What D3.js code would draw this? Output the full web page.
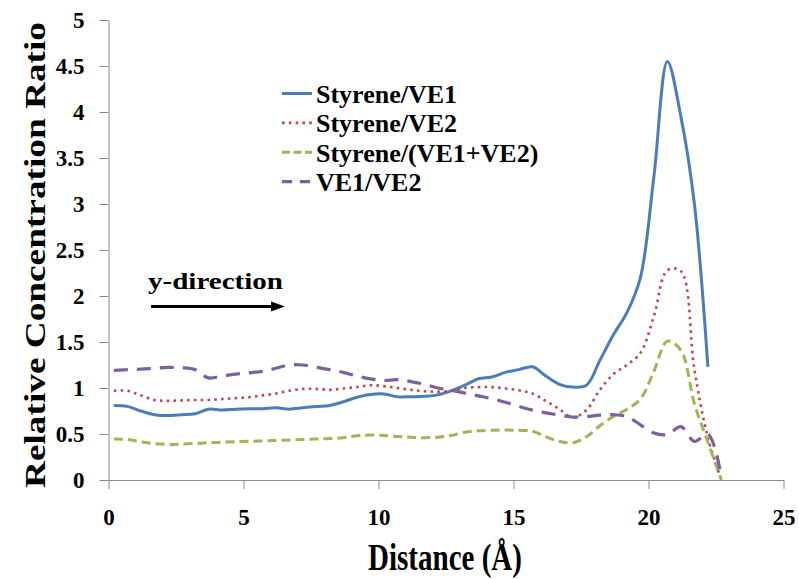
<!DOCTYPE html>
<html>
<head>
<meta charset="utf-8">
<script src="https://cdn.jsdelivr.net/npm/d3@7"></script>
<style>
  html, body { margin: 0; padding: 0; background: #fff; }
</style>
</head>
<body>
<svg id="chart" width="799" height="579"></svg>
<script>
// Distance along the y-direction (Å)
const distance = [0.2, 0.7, 1.2, 1.7, 2.2, 2.7, 3.2, 3.7, 4.2, 4.7, 5.2, 5.7, 6.2, 6.7, 7.2, 7.7,
  8.2, 8.7, 9.2, 9.7, 10.2, 10.7, 11.2, 11.7, 12.2, 12.7, 13.2, 13.7, 14.2, 14.7, 15.2, 15.7,
  16.2, 16.7, 17.2, 17.7, 18.2, 18.7, 19.2, 19.7, 20.2, 20.7, 21.2, 21.7, 22.2, 22.7];

// Relative concentration ratios
const styreneVE1 = [0.81, 0.80, 0.75, 0.71, 0.70, 0.71, 0.72, 0.77, 0.76, 0.77, 0.775, 0.775, 0.785, 0.77, 0.785, 0.80,
  0.81, 0.85, 0.90, 0.93, 0.935, 0.905, 0.905, 0.91, 0.925, 0.97, 1.03, 1.10, 1.12, 1.17, 1.20, 1.23,
  1.13, 1.04, 1.01, 1.03, 1.30, 1.58, 1.82, 2.20, 3.30, 4.55, 3.95, 3.00, 1.23, null];
const styreneVE2 = [0.97, 0.97, 0.92, 0.87, 0.86, 0.865, 0.87, 0.87, 0.88, 0.89, 0.90, 0.92, 0.94, 0.97, 0.99, 0.99,
  0.98, 0.995, 1.01, 1.03, 1.02, 1.00, 0.98, 0.965, 0.96, 0.97, 1.00, 1.01, 1.01, 0.995, 0.975, 0.94,
  0.86, 0.77, 0.68, 0.76, 0.98, 1.15, 1.25, 1.38, 1.78, 2.28, 2.27, 1.20, 0.46, 0.0];
const styreneVE1VE2 = [0.445, 0.44, 0.415, 0.395, 0.387, 0.39, 0.397, 0.405, 0.41, 0.417, 0.42, 0.425, 0.43, 0.435, 0.44, 0.445,
  0.45, 0.46, 0.48, 0.49, 0.485, 0.473, 0.465, 0.46, 0.465, 0.485, 0.52, 0.535, 0.54, 0.543, 0.54, 0.53,
  0.47, 0.42, 0.405, 0.47, 0.59, 0.69, 0.77, 0.88, 1.18, 1.51, 1.41, 0.83, 0.41, 0.0];
const ve1VE2 = [1.19, 1.20, 1.205, 1.215, 1.225, 1.22, 1.20, 1.11, 1.13, 1.15, 1.165, 1.18, 1.215, 1.25, 1.25, 1.225,
  1.20, 1.17, 1.13, 1.10, 1.08, 1.09, 1.07, 1.04, 1.00, 0.975, 0.945, 0.915, 0.885, 0.845, 0.80, 0.76,
  0.73, 0.705, 0.685, 0.69, 0.705, 0.71, 0.69, 0.60, 0.51, 0.495, 0.58, 0.42, 0.50, 0.03];

const seriesNames = ["Styrene/VE1", "Styrene/VE2", "Styrene/(VE1+VE2)", "VE1/VE2"];
const xTicks = [0, 5, 10, 15, 20, 25];
const yTicks = [0, 0.5, 1, 1.5, 2, 2.5, 3, 3.5, 4, 4.5, 5];

const series = [
  { name: seriesNames[0], values: styreneVE1,    color: "#4a7ebb", width: 3,   dash: null,     legendDash: null },
  { name: seriesNames[1], values: styreneVE2,    color: "#be4b48", width: 2.6, dash: "2.6,4.2", legendDash: "2.6,4.2" },
  { name: seriesNames[2], values: styreneVE1VE2, color: "#98b954", width: 3,   dash: "9,5",    legendDash: "8,3.5" },
  { name: seriesNames[3], values: ve1VE2,        color: "#7d60a0", width: 3.2, dash: "14,9",   legendDash: "10,8" }
];

const FONT = "'Liberation Serif', 'Times New Roman', 'DejaVu Serif', serif";
const svg = d3.select("#chart");
const x = d3.scaleLinear().domain([0, 25]).range([108.5, 783.5]);
const y = d3.scaleLinear().domain([0, 5]).range([480, 20]);
const axisColor = "#8a8a8a";

function serifBold(sel, size) {
  return sel.attr("font-family", null)
    .style("font-family", FONT)
    .style("font-weight", "bold")
    .style("font-size", size + "px")
    .attr("fill", "#000");
}

// Y axis
const gy = svg.append("g").attr("transform", `translate(${x(0)},0)`)
  .call(d3.axisLeft(y).tickValues(yTicks).tickFormat(d => String(d)).tickSize(9).tickSizeOuter(0).tickPadding(15));
gy.select(".domain").attr("stroke", axisColor);
gy.selectAll(".tick line").attr("stroke", axisColor);
serifBold(gy.selectAll(".tick text"), 23).attr("dy", "0.33em");

// X axis
const gx = svg.append("g").attr("transform", `translate(0,${y(0)})`)
  .call(d3.axisBottom(x).tickValues(xTicks).tickFormat(d => String(d)).tickSize(9).tickSizeOuter(0));
gx.select(".domain").attr("stroke", axisColor);
gx.selectAll(".tick line").attr("stroke", axisColor);
serifBold(gx.selectAll(".tick text"), 23).attr("y", 45).attr("dy", 0);

// Axis titles
serifBold(svg.append("text"), 37)
  .attr("x", 445).attr("y", 570)
  .attr("text-anchor", "middle")
  .attr("textLength", 154).attr("lengthAdjust", "spacingAndGlyphs")
  .text("Distance (Å)");

serifBold(svg.append("text"), 30)
  .attr("transform", "translate(45,255) rotate(-90)")
  .attr("text-anchor", "middle")
  .attr("textLength", 466).attr("lengthAdjust", "spacingAndGlyphs")
  .text("Relative Concentration Ratio");

// Series lines
const line = d3.line()
  .defined(d => d.v !== null)
  .x(d => x(d.d))
  .y(d => y(d.v))
  .curve(d3.curveCatmullRom.alpha(0.5));

series.forEach(s => {
  const pts = distance.map((d, i) => ({ d: d, v: s.values[i] }));
  svg.append("path")
    .datum(pts)
    .attr("fill", "none")
    .attr("stroke", s.color)
    .attr("stroke-width", s.width)
    .attr("stroke-linejoin", "round")
    .attr("stroke-dasharray", s.dash)
    .attr("d", line);
});

// Legend
const legend = svg.append("g");
series.forEach((s, i) => {
  const ry = 93.5 + i * 29.4;
  legend.append("line")
    .attr("x1", 282).attr("x2", 312).attr("y1", ry).attr("y2", ry)
    .attr("stroke", s.color).attr("stroke-width", s.width)
    .attr("stroke-dasharray", s.legendDash);
  serifBold(legend.append("text"), 26)
    .attr("x", 316).attr("y", ry + 9.5)
    .text(s.name);
});

// Direction annotation
serifBold(svg.append("text"), 24)
  .attr("x", 148).attr("y", 289)
  .attr("textLength", 135).attr("lengthAdjust", "spacingAndGlyphs")
  .text("y-direction");
svg.append("line")
  .attr("x1", 151).attr("x2", 274).attr("y1", 306.5).attr("y2", 306.5)
  .attr("stroke", "#000").attr("stroke-width", 3);
svg.append("path")
  .attr("d", "M285,306.5 L271,301.5 L271,311.5 Z")
  .attr("fill", "#000");
</script>
</body>
</html>
